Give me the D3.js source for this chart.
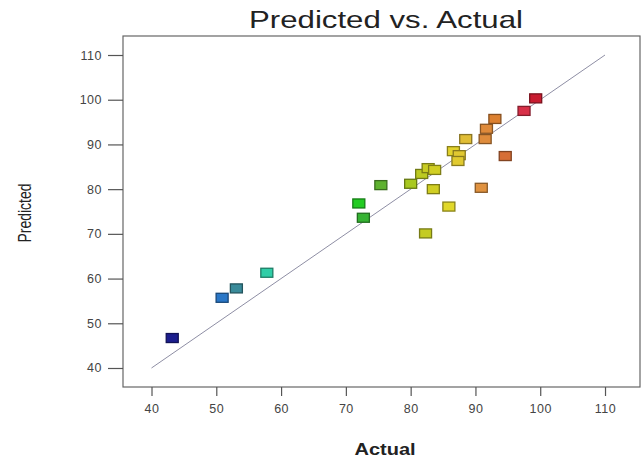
<!DOCTYPE html>
<html>
<head>
    <script src="https://d3js.org/d3.v7.min.js"></script>
    <style>
        body { margin: 0; background: #fff; }
        text { font-family: "Liberation Sans", Arial, sans-serif; }
    </style>
</head>
<body>
    <script>
        // Actual vs predicted values
        const actual = [43.2, 50.9, 53.1, 57.8, 72.0, 72.7, 75.4, 80.0, 83.5, 85.9, 82.3, 90.9,
                        81.7, 82.7, 83.7, 86.6, 87.5, 87.3, 88.5, 91.5, 91.7, 93.0, 94.6, 97.5, 99.3];
        const predicted = [46.7, 55.7, 57.8, 61.3, 76.8, 73.6, 80.9, 81.2, 80.0, 76.1, 70.1, 80.3,
                           83.4, 84.7, 84.3, 88.5, 87.6, 86.3, 91.2, 91.2, 93.5, 95.7, 87.4, 97.5, 100.3];
        const xTicks = [40, 50, 60, 70, 80, 90, 100, 110];
        const yTicks = [40, 50, 60, 70, 80, 90, 100, 110];
        const colorStops = [43, 51, 53, 58, 72, 73, 75, 80, 83, 86, 89, 91, 93, 95, 97.5, 99.3];
        const colorValues = ['#1c1c8c', '#2a78c8', '#3a8a9a', '#30d0a8', '#22cc22', '#3fa83a',
                             '#58b030', '#a8c820', '#cccc22', '#e2d82a', '#e0b838', '#e09040',
                             '#dc8030', '#d46a38', '#d83048', '#c81c30'];

        const width = 641, height = 461;
        const box = { left: 123, right: 640, top: 36, bottom: 387 };

        const svg = d3.select('body').append('svg')
            .attr('width', width)
            .attr('height', height);

        const x = d3.scaleLinear().domain([35.6, 115.4]).range([box.left, box.right]);
        const y = d3.scaleLinear().domain([35.75, 114.25]).range([box.bottom, box.top]);
        const color = d3.scaleLinear().domain(colorStops).range(colorValues);

        // frame
        svg.append('rect')
            .attr('x', box.left).attr('y', box.top)
            .attr('width', box.right - box.left).attr('height', box.bottom - box.top)
            .attr('fill', 'none').attr('stroke', '#666').attr('stroke-width', 1.2);

        // axes
        const gx = svg.append('g')
            .attr('transform', `translate(0,${box.bottom})`)
            .call(d3.axisBottom(x).tickValues(xTicks).tickSize(9).tickPadding(8));
        const gy = svg.append('g')
            .attr('transform', `translate(${box.left},0)`)
            .call(d3.axisLeft(y).tickValues(yTicks).tickSize(15).tickPadding(6));
        [gx, gy].forEach(g => {
            g.select('.domain').remove();
            g.selectAll('line').attr('stroke', '#555').attr('stroke-width', 1.2);
            g.selectAll('text').attr('fill', '#444').style('font-size', '12.5px')
                .style('letter-spacing', '0.5px');
        });

        // 45 degree reference line
        svg.append('line')
            .attr('x1', x(40)).attr('y1', y(40))
            .attr('x2', x(110)).attr('y2', y(110))
            .attr('stroke', '#8e8ea4').attr('stroke-width', 1);

        // points
        const pts = actual.map((a, i) => ({ a: a, p: predicted[i] }));
        svg.append('g').selectAll('rect')
            .data(pts)
            .join('rect')
            .attr('x', d => x(d.a) - 6)
            .attr('y', d => y(d.p) - 4.5)
            .attr('width', 12)
            .attr('height', 9)
            .attr('fill', d => color(d.a))
            .attr('stroke', d => d3.color(color(d.a)).darker(1.4))
            .attr('stroke-width', 1.3);

        // title and labels
        svg.append('text')
            .attr('transform', 'translate(386,28) scale(1.3,1)')
            .attr('text-anchor', 'middle')
            .attr('fill', '#222')
            .style('font-size', '24px')
            .text('Predicted vs. Actual');

        svg.append('text')
            .attr('transform', 'translate(385,455) scale(1.25,1)')
            .attr('text-anchor', 'middle')
            .attr('fill', '#222')
            .style('font-size', '16px')
            .style('font-weight', 'bold')
            .text('Actual');

        svg.append('text')
            .attr('transform', 'translate(31,213) rotate(-90) scale(1,1.35)')
            .attr('text-anchor', 'middle')
            .attr('fill', '#222')
            .style('font-size', '14px')
            .text('Predicted');
    </script>
</body>
</html>
